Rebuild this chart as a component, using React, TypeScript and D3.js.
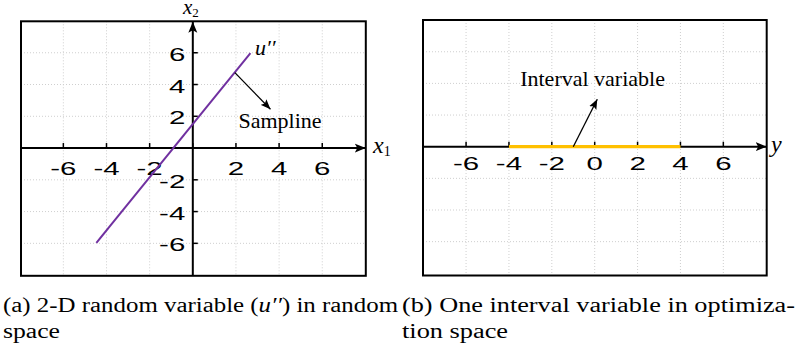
import React from "react";
import * as d3 from "d3";

// Shared axis domain and tick values
const domain: [number, number] = [-8, 8];
const gridTicks = [-6, -4, -2, 0, 2, 4, 6];
const xTickLabelsA = [-6, -4, -2, 2, 4, 6];
const yTickLabelsA = [6, 4, 2, -2, -4, -6];
const xTickLabelsB = [-6, -4, -2, 0, 2, 4, 6];

// Sample line u'' in the random space (x1, x2)
const samplineX = [-4.47, 2.67];
const samplineY = [-5.97, 5.97];

// Interval of the variable y in the optimization space
const intervalBounds = [-4, 4];

// Annotation arrows [from, to] in data units
const samplineArrow = [
  [1.95, 4.75],
  [3.6, 2.44],
];
const intervalArrow = [
  [-1.0, 0],
  [0.12, 3.0],
];

const captionA1 = ["(a) 2-D random variable (", "u′′", ") in random"];
const captionA2 = "space";
const captionB1 = "(b) One interval variable in optimiza-";
const captionB2 = "tion space";

const W = 801;
const H = 347;

const serif = "Liberation Serif, Tinos, Times New Roman, serif";
const sans = "Liberation Sans, Arimo, Arial, sans-serif";
const gridColor = "#cfcfcf";

function TickText({ x, y, anchor, children }: any) {
  return (
    <text
      transform={`translate(${x},${y}) scale(1.55,1)`}
      textAnchor={anchor}
      style={{ fontFamily: sans, fontSize: 19 }}
      fill="#000"
    >
      {children}
    </text>
  );
}

export default function App() {
  // Panel (a) scales
  const xA = d3.scaleLinear().domain(domain).range([20.2, 365.4]);
  const yA = d3.scaleLinear().domain(domain).range([275.1, 21]);
  // Panel (b) scales
  const xB = d3.scaleLinear().domain(domain).range([423.2, 766.2]);
  const yB = d3.scaleLinear().domain(domain).range([273.3, 20.1]);

  const boxA = { x0: 21, x1: 365.8, y0: 21.3, y1: 275.8 };
  const boxB = { x0: 423, x1: 766.7, y0: 20, y1: 275.5 };

  const line = d3
    .line<[number, number]>()
    .x((d) => d[0])
    .y((d) => d[1]);

  const samplinePts: [number, number][] = samplineX.map((v, i) => [
    xA(v),
    yA(samplineY[i]),
  ]);

  const serifStyle = (size: number, italic = false) => ({
    fontFamily: serif,
    fontSize: size,
    fontStyle: italic ? "italic" : "normal",
  });

  return (
    <svg
      width={W}
      height={H}
      viewBox={`0 0 ${W} ${H}`}
      style={{ position: "absolute", left: 0, top: 0, background: "#fff" }}
    >
      <defs>
        <marker
          id="axisHead"
          markerUnits="userSpaceOnUse"
          markerWidth={12}
          markerHeight={10}
          refX={11}
          refY={5}
          orient="auto"
        >
          <path d="M0,0.5 L11,5 L0,9.5 L2.5,5 Z" fill="#000" />
        </marker>
        <marker
          id="noteHead"
          markerUnits="userSpaceOnUse"
          markerWidth={11}
          markerHeight={9}
          refX={10}
          refY={4.5}
          orient="auto"
        >
          <path d="M0,0.5 L10,4.5 L0,8.5 L2,4.5 Z" fill="#000" />
        </marker>
      </defs>

      {/* ---------- Panel (a): random space ---------- */}
      <g>
        {gridTicks.map((t) => (
          <line
            key={`av${t}`}
            x1={xA(t)}
            x2={xA(t)}
            y1={boxA.y0}
            y2={boxA.y1}
            stroke={gridColor}
            strokeWidth={1}
            strokeDasharray="1 2"
          />
        ))}
        {gridTicks.map((t) => (
          <line
            key={`ah${t}`}
            x1={boxA.x0}
            x2={boxA.x1}
            y1={yA(t)}
            y2={yA(t)}
            stroke={gridColor}
            strokeWidth={1}
            strokeDasharray="1 2"
          />
        ))}
        <rect
          x={boxA.x0}
          y={boxA.y0}
          width={boxA.x1 - boxA.x0}
          height={boxA.y1 - boxA.y0}
          fill="none"
          stroke="#000"
          strokeWidth={2}
        />
        {/* axes */}
        <line
          x1={boxA.x0}
          x2={boxA.x1}
          y1={yA(0)}
          y2={yA(0)}
          stroke="#000"
          strokeWidth={2}
          markerEnd="url(#axisHead)"
        />
        <line
          x1={xA(0)}
          x2={xA(0)}
          y1={boxA.y1}
          y2={boxA.y0 + 0.5}
          stroke="#000"
          strokeWidth={2}
          markerEnd="url(#axisHead)"
        />
        {gridTicks.map((t) => (
          <line
            key={`axt${t}`}
            x1={xA(t)}
            x2={xA(t)}
            y1={yA(0)}
            y2={yA(0) - 5}
            stroke="#000"
            strokeWidth={1.5}
          />
        ))}
        {gridTicks.map((t) => (
          <line
            key={`ayt${t}`}
            x1={xA(0)}
            x2={xA(0) + 5}
            y1={yA(t)}
            y2={yA(t)}
            stroke="#000"
            strokeWidth={1.5}
          />
        ))}
        {xTickLabelsA.map((t) => (
          <TickText key={`axl${t}`} x={xA(t)} y={yA(0) + 26.5} anchor="middle">
            {t}
          </TickText>
        ))}
        {yTickLabelsA.map((t) => (
          <TickText key={`ayl${t}`} x={xA(0) - 7.5} y={yA(t) + 8} anchor="end">
            {t}
          </TickText>
        ))}

        {/* sample line */}
        <path
          d={line(samplinePts) || ""}
          stroke="#7030A0"
          strokeWidth={2}
          fill="none"
        />
        <line
          x1={xA(samplineArrow[0][0])}
          y1={yA(samplineArrow[0][1])}
          x2={xA(samplineArrow[1][0])}
          y2={yA(samplineArrow[1][1])}
          stroke="#000"
          strokeWidth={1.3}
          markerEnd="url(#noteHead)"
        />
        <text x={xA(4.04)} y={yA(1.24)} textAnchor="middle" style={serifStyle(22)}>
          Sampline
        </text>
        <text x={xA(2.88)} y={yA(5.86)} style={serifStyle(22, true)}>
          u′′
        </text>

        {/* axis titles */}
        <text x={373} y={152.5} style={serifStyle(24, true)}>
          x
          <tspan style={{ fontSize: 14, fontStyle: "normal" }} dy={3}>
            1
          </tspan>
        </text>
        <text x={183} y={14} style={serifStyle(21, true)}>
          x
          <tspan style={{ fontSize: 13, fontStyle: "normal" }} dy={2.5}>
            2
          </tspan>
        </text>
      </g>

      {/* ---------- Panel (b): optimization space ---------- */}
      <g>
        {gridTicks.map((t) => (
          <line
            key={`bv${t}`}
            x1={xB(t)}
            x2={xB(t)}
            y1={boxB.y0}
            y2={boxB.y1}
            stroke={gridColor}
            strokeWidth={1}
            strokeDasharray="1 2"
          />
        ))}
        {gridTicks
          .filter((t) => t !== 0)
          .map((t) => (
            <line
              key={`bh${t}`}
              x1={boxB.x0}
              x2={boxB.x1}
              y1={yB(t)}
              y2={yB(t)}
              stroke={gridColor}
              strokeWidth={1}
              strokeDasharray="1 2"
            />
          ))}
        <rect
          x={boxB.x0}
          y={boxB.y0}
          width={boxB.x1 - boxB.x0}
          height={boxB.y1 - boxB.y0}
          fill="none"
          stroke="#000"
          strokeWidth={2}
        />
        <line
          x1={boxB.x0}
          x2={boxB.x1}
          y1={yB(0)}
          y2={yB(0)}
          stroke="#000"
          strokeWidth={2}
          markerEnd="url(#axisHead)"
        />
        {gridTicks.map((t) => (
          <line
            key={`bxt${t}`}
            x1={xB(t)}
            x2={xB(t)}
            y1={yB(0)}
            y2={yB(0) - 5}
            stroke="#000"
            strokeWidth={1.5}
          />
        ))}
        <line
          x1={xB(intervalBounds[0])}
          x2={xB(intervalBounds[1])}
          y1={yB(0)}
          y2={yB(0)}
          stroke="#FFC000"
          strokeWidth={3.3}
        />
        {xTickLabelsB.map((t) => (
          <TickText key={`bxl${t}`} x={xB(t)} y={yB(0) + 23.5} anchor="middle">
            {t}
          </TickText>
        ))}
        <line
          x1={xB(intervalArrow[0][0])}
          y1={yB(intervalArrow[0][1])}
          x2={xB(intervalArrow[1][0])}
          y2={yB(intervalArrow[1][1])}
          stroke="#000"
          strokeWidth={1.3}
          markerEnd="url(#noteHead)"
        />
        <text x={xB(-0.1)} y={yB(3.83)} textAnchor="middle" style={serifStyle(22)}>
          Interval variable
        </text>
        <text x={771} y={151.5} style={serifStyle(24, true)}>
          y
        </text>
      </g>

      {/* ---------- Captions ---------- */}
      <g style={{ fontFamily: serif, fontSize: 20 }} fill="#000">
        <text x={3} y={312} textLength={395} lengthAdjust="spacingAndGlyphs">
          {captionA1[0]}
          <tspan style={{ fontStyle: "italic" }}>{captionA1[1]}</tspan>
          {captionA1[2]}
        </text>
        <text x={3} y={338} textLength={57} lengthAdjust="spacingAndGlyphs">
          {captionA2}
        </text>
        <text x={402} y={312} textLength={393} lengthAdjust="spacingAndGlyphs">
          {captionB1}
        </text>
        <text x={402} y={338} textLength={106} lengthAdjust="spacingAndGlyphs">
          {captionB2}
        </text>
      </g>
    </svg>
  );
}
